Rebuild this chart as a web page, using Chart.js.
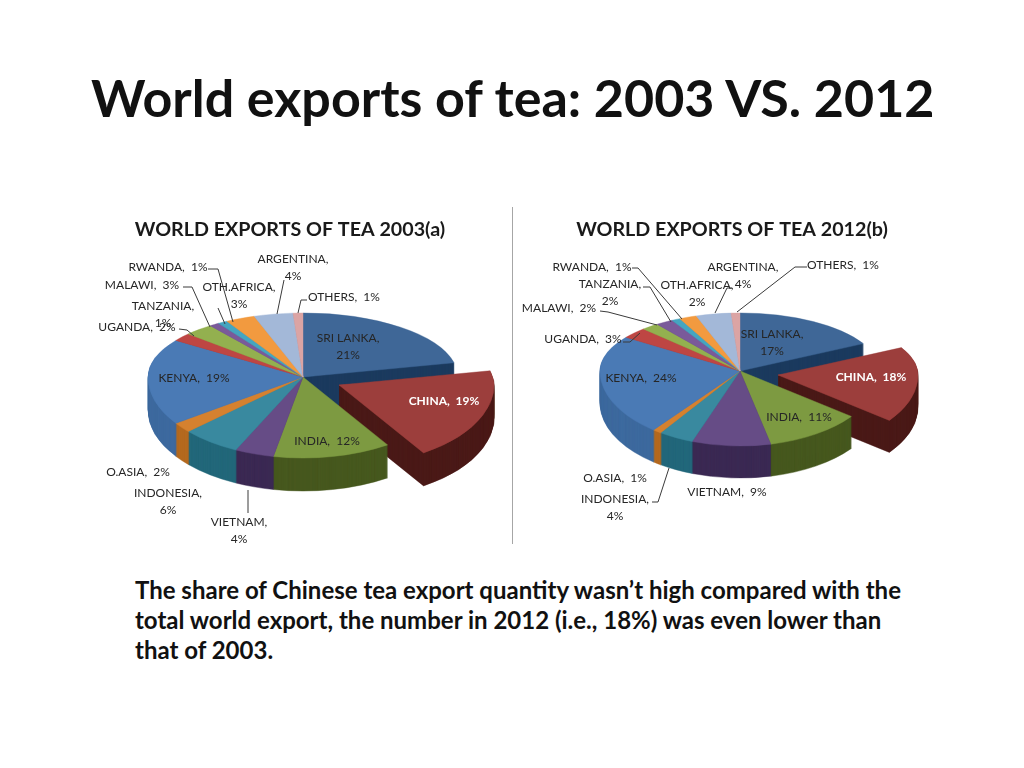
<!DOCTYPE html>
<html lang="en">
<head>
    <meta charset="UTF-8">
    <title>World exports of tea</title>
    <script src="https://cdn.jsdelivr.net/npm/chart.js@4/dist/chart.umd.min.js"></script>
    <style>
        html, body { margin: 0; background: #fff; width: 1024px; height: 768px; overflow: hidden; }
        body { position: relative; font-family: Lato, sans-serif; color: #111; }
        h1 { position: absolute; left: 91px; top: 64px; margin: 0; font-size: 52px; line-height: 66px; font-weight: 700; white-space: nowrap; }
        p { position: absolute; left: 135px; top: 575px; margin: 0; font-size: 24px; line-height: 30px; font-weight: 700; white-space: nowrap; }
        #divider { position: absolute; left: 512px; top: 207px; width: 1px; height: 337px; background: #a6a6a6; }
        canvas { position: absolute; }
    </style>
</head>
<body>
    <h1>World exports of tea: 2003 VS. 2012</h1>
    <div style="position:absolute;left:70px;top:205px;width:440px;height:345px"><canvas id="chart2003"></canvas></div>
    <div id="divider"></div>
    <div style="position:absolute;left:512px;top:205px;width:440px;height:345px"><canvas id="chart2012"></canvas></div>
    <p>The share of Chinese tea export quantity wasn’t high compared with the<br>total world export, the number in 2012 (i.e., 18%) was even lower than<br>that of 2003.</p>

    <script>
        const categories = ['SRI LANKA', 'CHINA', 'INDIA', 'VIETNAM', 'INDONESIA', 'O.ASIA', 'KENYA', 'UGANDA', 'MALAWI', 'TANZANIA', 'RWANDA', 'OTH.AFRICA', 'ARGENTINA', 'OTHERS'];
        const values2003 = [21, 19, 12, 4, 6, 2, 19, 2, 3, 1, 1, 3, 4, 1];
        const values2012 = [17, 18, 11, 9, 4, 1, 24, 3, 2, 2, 1, 2, 4, 1];

        const topColors = ['#3f6797', '#9c3e3c', '#7d9a41', '#664c86', '#39899f', '#d5812f', '#4a7ab5', '#be4643', '#93b04f', '#7a5a9a', '#45a5c0', '#f29a3f', '#a3b8d8', '#dba4a4'];
        const wallColors = ['#1c3b5f', '#4b1a18', '#47591f', '#3c2a54', '#23687b', '#b56a20', '#3e6a9f', '#8a2f2d', '#6a8035', '#553d70', '#2f7a90', '#b8742c', '#7a8ca8', '#a87c7c'];

        // where things go on the page, label x/y is the centre of the first line
        const layout2003 = {
            left: 70, top: 205, cx: 303, cy: 377, radius: 155, backRy: 64, frontRy: 81, depth: 33, explode: [36, 8],
            labels: [[348, 338, 1], [444, 401, 0], [327, 441, 0], [239, 522, 1], [168, 493, 1], [138, 472, 0], [194, 378, 0], [137, 327, 0], [142, 285, 0], [163, 306, 1], [168, 267, 0], [239, 287, 1], [293, 259, 1], [344, 297, 0]],
            leaders: [
                [[208, 269], [218, 269], [233, 322]],
                [[183, 287], [192, 287], [210, 327]],
                [[218, 308], [225, 324]],
                [[179, 329], [187, 330], [194, 336]],
                [[284, 280], [277, 314]],
                [[307, 300], [301, 300], [298, 313]],
                [[248, 490], [248, 513]]
            ]
        };
        const layout2012 = {
            left: 512, top: 205, cx: 740, cy: 371, radius: 140, backRy: 58, frontRy: 75, depth: 32, explode: [38, 4],
            labels: [[772, 334, 1], [871, 377, 0], [799, 417, 0], [727, 492, 0], [615, 499, 1], [615, 478, 0], [641, 378, 0], [583, 339, 0], [559, 308, 0], [610, 284, 1], [592, 267, 0], [697, 285, 1], [743, 267, 1], [843, 265, 0]],
            leaders: [
                [[632, 268], [638, 268], [682, 319]],
                [[643, 287], [650, 287], [671, 322]],
                [[600, 311], [608, 312], [657, 325]],
                [[623, 342], [630, 342], [640, 333]],
                [[732, 288], [727, 288], [715, 313]],
                [[807, 267], [795, 267], [737, 312]],
                [[652, 502], [658, 502], [669, 468]]
            ]
        };

        function arcStyle(color) {
            return { backgroundColor: color, borderColor: color, borderWidth: 0.6, borderAlign: 'center', offset: 0, spacing: 0, circular: true, borderRadius: 0 };
        }

        // pie is squashed by different amounts above and below the centre so it looks like perspective
        function paintArc(ctx, arc, color, lay, dx, dy) {
            const style = arc.options;
            arc.options = arcStyle(color);
            const cx = lay.cx - lay.left + dx, cy = lay.cy - lay.top + dy;
            [[-400, lay.backRy], [0, lay.frontRy]].forEach(function (half) {
                ctx.save();
                ctx.beginPath();
                ctx.rect(cx - 400, cy + half[0] - (half[0] ? 0 : 0.4), 800, 400.4);
                ctx.clip();
                ctx.translate(cx, cy);
                ctx.scale(1, half[1] / lay.radius);
                ctx.translate(-arc.x, -arc.y);
                arc.draw(ctx);
                ctx.restore();
            });
            arc.options = style;
        }

        const tiltedPie = {
            id: 'tiltedPie',
            beforeDatasetsDraw(chart, args, opts) {
                const ctx = chart.ctx, lay = opts.lay, arcs = chart.getDatasetMeta(0).data;
                const chinaIdx = categories.indexOf('CHINA');
                // back to front: sri lanka wall, china wall, the other walls, top faces, china top
                for (let d = lay.depth; d >= 1; d--) {
                    paintArc(ctx, arcs[0], wallColors[0], lay, 0, d);
                }
                for (let d = lay.depth; d >= 1; d--) {
                    paintArc(ctx, arcs[chinaIdx], wallColors[chinaIdx], lay, lay.explode[0], lay.explode[1] + d);
                }
                for (let d = lay.depth; d >= 1; d--) {
                    arcs.forEach(function (arc, i) {
                        if (i != chinaIdx && i != 0) paintArc(ctx, arc, wallColors[i], lay, 0, d);
                    });
                }
                arcs.forEach(function (arc, i) {
                    if (i != chinaIdx) paintArc(ctx, arc, topColors[i], lay, 0, 0);
                });
                paintArc(ctx, arcs[chinaIdx], topColors[chinaIdx], lay, lay.explode[0], lay.explode[1]);
                return false;
            },
            // returning false above also skips afterDatasetsDraw, so labels go here
            afterDraw(chart, args, opts) {
                const ctx = chart.ctx, lay = opts.lay, values = chart.data.datasets[0].data;
                ctx.save();
                ctx.strokeStyle = '#3a3a3a';
                ctx.lineWidth = 1;
                lay.leaders.forEach(function (pts) {
                    ctx.beginPath();
                    pts.forEach(function (p, i) {
                        if (i == 0) ctx.moveTo(p[0] - lay.left, p[1] - lay.top);
                        else ctx.lineTo(p[0] - lay.left, p[1] - lay.top);
                    });
                    ctx.stroke();
                });
                ctx.textAlign = 'center';
                ctx.textBaseline = 'middle';
                lay.labels.forEach(function (l, i) {
                    const x = l[0] - lay.left, y = l[1] - lay.top;
                    const isChina = categories[i] == 'CHINA';
                    ctx.fillStyle = isChina ? '#ffffff' : '#262626';
                    ctx.font = (isChina ? 'bold ' : '') + '12px Lato, sans-serif';
                    if (l[2]) {
                        ctx.fillText(categories[i] + ',', x, y);
                        ctx.fillText(values[i] + '%', x, y + 17);
                    } else {
                        ctx.fillText(categories[i] + ',  ' + values[i] + '%', x, y);
                    }
                });
                ctx.restore();
            }
        };

        function makeChart(id, title, values, lay) {
            return new Chart(document.getElementById(id), {
                type: 'pie',
                plugins: [tiltedPie],
                data: {
                    labels: categories,
                    datasets: [{ data: values, backgroundColor: topColors, borderWidth: 0 }]
                },
                options: {
                    responsive: true,
                    maintainAspectRatio: false,
                    animation: false,
                    radius: lay.radius,
                    events: [],
                    plugins: {
                        legend: { display: false },
                        tooltip: { enabled: false },
                        title: {
                            display: true,
                            text: title,
                            color: '#1a1a1a',
                            font: { family: 'Lato, sans-serif', size: 19.7, weight: 'bold' },
                            padding: { top: 13, bottom: 4 }
                        },
                        tiltedPie: { lay: lay }
                    }
                }
            });
        }

        var chartA = makeChart('chart2003', 'WORLD EXPORTS OF TEA 2003(a)', values2003, layout2003);
        var chartB = makeChart('chart2012', 'WORLD EXPORTS OF TEA 2012(b)', values2012, layout2012);
    </script>
</body>
</html>
